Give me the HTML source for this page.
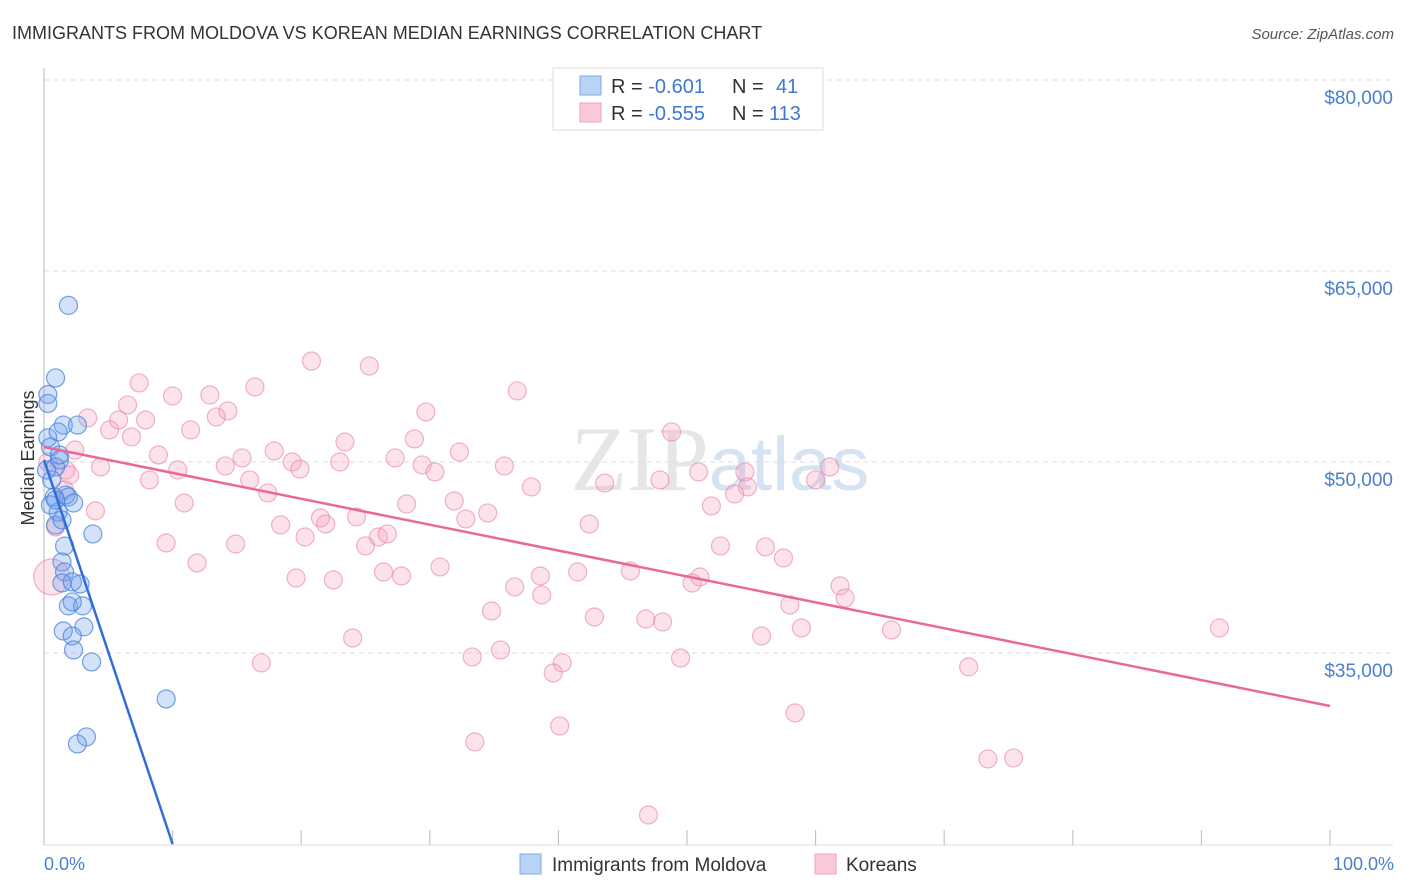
<!DOCTYPE html>
<html><head><meta charset="utf-8"><style>
body{margin:0;background:#fff;font-family:"Liberation Sans",sans-serif}
svg{display:block}
</style></head><body>
<svg id="chart" width="1406" height="892" viewBox="0 0 1406 892">
<text x="12" y="39" font-size="18" fill="#333">IMMIGRANTS FROM MOLDOVA VS KOREAN MEDIAN EARNINGS CORRELATION CHART</text>
<text x="1394" y="39" font-size="15" fill="#555" text-anchor="end" font-style="italic">Source: ZipAtlas.com</text>
<text x="720" y="490" font-size="92" fill="#e6e6e6" text-anchor="middle" font-family="Liberation Serif,serif">ZIP<tspan fill="#d5e3f3" font-family="Liberation Sans,sans-serif" font-size="76">atlas</tspan></text>
<g id="grid"></g>
<g id="axes"></g>
<g id="marks"></g>
<g id="lines"></g>
<text transform="translate(34,458) rotate(-90)" font-size="18" fill="#333" text-anchor="middle">Median Earnings</text>
<text x="44" y="870" font-size="18" fill="#4a7fd0">0.0%</text>
<text x="1394" y="870" font-size="18" fill="#4a7fd0" text-anchor="end">100.0%</text>
<g>
<rect x="553" y="68" width="270" height="62" fill="#fff" stroke="#ddd"/>
<rect x="580" y="76" width="21" height="19" fill="#b9d3f5" stroke="#7fa9e6"/>
<rect x="580" y="103" width="21" height="19" fill="#fac8d7" stroke="#f0a0bb"/>
<text x="611" y="93" font-size="20" fill="#333">R = <tspan fill="#3f78d4">-0.601</tspan><tspan x="732">N = </tspan><tspan x="776" fill="#3f78d4">41</tspan></text>
<text x="611" y="120" font-size="20" fill="#333">R = <tspan fill="#3f78d4">-0.555</tspan><tspan x="732">N = </tspan><tspan x="769" fill="#3f78d4">113</tspan></text>
</g>
<g>
<rect x="520" y="854" width="21" height="20" fill="#b9d3f5" stroke="#7fa9e6"/>
<text x="552" y="871" font-size="19" fill="#333">Immigrants from Moldova</text>
<rect x="815" y="854" width="21" height="20" fill="#fac8d7" stroke="#f0a0bb"/>
<text x="846" y="871" font-size="19" fill="#333">Koreans</text>
</g>
</svg>
<script>
const yTicks=[80000,65000,50000,35000];
const yTickLabels=["$80,000","$65,000","$50,000","$35,000"];
const xTicks=[0,10,20,30,40,50,60,70,80,90,100];
const blueX=[1.9,0.9,0.3,0.3,1.5,2.6,0.3,1.1,0.5,1.2,0.9,0.6,1.7,0.8,1.9,2.3,1.1,0.9,3.8,1.6,1.4,1.6,1.4,2.2,2.8,1.9,3.0,2.2,3.1,1.5,2.2,2.3,3.7,9.5,3.3,2.6,0.5,0.9,1.4,0.2,1.2];
const blueY=[62300,56600,55300,54600,52900,52900,51900,52360,51180,50160,49610,48590,47410,47250,47250,46780,46070,45050,44350,43400,42150,41360,40500,40580,40420,38700,38700,39010,37050,36730,36340,35240,34300,31390,28410,27860,46630,47020,45450,49370,50550];
const pinkX=[20.8,25.3,7.4,16.4,36.8,10.0,12.9,3.4,5.8,7.9,14.3,13.4,29.7,6.5,5.1,11.4,6.8,23.4,28.8,48.8,32.3,2.4,4.4,8.9,15.4,17.9,23.0,27.3,35.8,10.4,14.1,19.3,19.9,29.4,30.4,50.9,54.5,61.1,0.3,1.7,8.2,16.0,17.4,37.9,43.6,47.9,54.7,60.0,10.9,28.2,31.9,34.5,4.0,21.5,24.3,32.8,53.7,51.9,18.4,21.9,0.9,42.4,20.3,26.0,26.7,25.0,9.5,14.9,52.6,56.1,11.9,57.5,30.8,26.4,27.8,41.5,45.6,19.6,22.5,38.6,51.0,50.4,36.6,38.7,61.9,62.3,34.8,42.8,46.8,48.1,58.0,58.9,65.9,91.4,24.0,55.8,35.5,33.3,40.3,49.5,16.9,39.6,71.9,58.4,40.1,33.5,73.4,75.4,47.0,0.6,2.0,1.6];
const pinkY=[57930,57540,56210,55890,55580,55190,55260,53460,53300,53300,54010,53540,53930,54480,52520,52520,51970,51570,51810,52360,50790,50940,49610,50550,50320,50870,50000,50320,49690,49370,49690,50000,49450,49770,49220,49220,49220,49610,50000,49370,48590,48590,47570,48040,48350,48590,48040,48590,46780,46700,46940,46000,46160,45610,45680,45530,47490,46550,45060,45130,44900,45130,44110,44110,44350,43410,43640,43560,43410,43330,42070,42460,41760,41360,41050,41360,41440,40890,40740,41050,40970,40500,40190,39560,40270,39320,38300,37830,37670,37440,38770,36970,36810,36970,36180,36340,35240,34690,34220,34610,34220,33430,33910,30290,29270,28020,26680,26760,22280,40970,48980,47800];
const blueLine=[[0,50160],[10,20000]];
const pinkLine=[[0,51180],[100,30840]];
const NS="http://www.w3.org/2000/svg";
const X=p=>44+p*12.86;
const Y=v=>80+(80000-v)/15000*191;
function mk(tag,attrs,parent){const e=document.createElementNS(NS,tag);for(const k in attrs)e.setAttribute(k,attrs[k]);parent.appendChild(e);return e;}
const grid=document.getElementById('grid'),axes=document.getElementById('axes'),marks=document.getElementById('marks'),lines=document.getElementById('lines');
yTicks.forEach((v,i)=>{
 const l=mk('line',{x1:44,x2:1393,y1:Y(v),y2:Y(v),stroke:'#ddd','stroke-dasharray':'5,4'},grid);
 
 
 const t=mk('text',{x:1393,y:Y(v)+24,'font-size':19,fill:'#4a7fd0','text-anchor':'end'},axes);
 t.textContent=yTickLabels[i];
 
 
});
mk('line',{x1:44,x2:44,y1:68,y2:845,stroke:'#bbb'},axes);
mk('line',{x1:44,x2:1393,y1:845,y2:845,stroke:'#ddd'},axes);
xTicks.forEach(p=>{
 const t=mk('line',{x1:X(p),x2:X(p),y1:830,y2:845,stroke:'#bbb'},axes);
 
 
});
pinkX.forEach((x,i)=>{
 const c=mk('circle',{cx:X(x),cy:Y(pinkY[i]),r:(i===pinkX.length-3)?18:9,fill:'rgba(244,160,190,0.3)',stroke:'rgba(232,130,165,0.6)','stroke-width':1.2},marks);
 
 
});
blueX.forEach((x,i)=>{
 const c=mk('circle',{cx:X(x),cy:Y(blueY[i]),r:9,fill:'rgba(110,160,235,0.3)',stroke:'rgba(70,130,220,0.75)','stroke-width':1.2},marks);
 
 
});
const bl=mk('line',{x1:X(blueLine[0][0]),y1:Y(blueLine[0][1]),x2:X(blueLine[1][0]),y2:Y(blueLine[1][1]),stroke:'#2f6fd6','stroke-width':2.5},lines);


const pl=mk('line',{x1:X(pinkLine[0][0]),y1:Y(pinkLine[0][1]),x2:X(pinkLine[1][0]),y2:Y(pinkLine[1][1]),stroke:'#e8689a','stroke-width':2.5},lines);


</script>
</body></html>
